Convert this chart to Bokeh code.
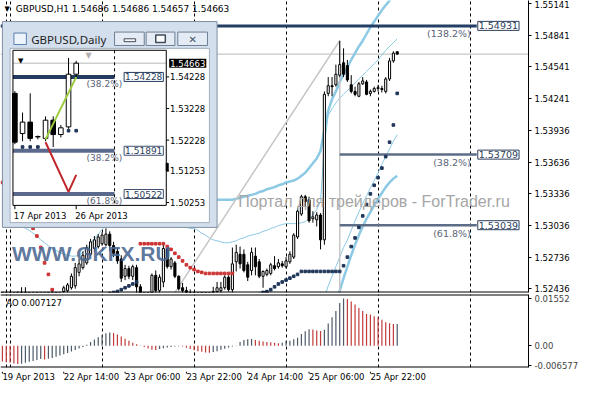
import math
from bokeh.plotting import figure
from bokeh.models import Range1d, FixedTicker, Label, Span, PrintfTickFormatter, Grid
from bokeh.layouts import column
from bokeh.embed import file_html
from bokeh.resources import INLINE
from bokeh.core.properties import value

nan = float("nan")

# ---------------- hourly GBPUSD H1 (bar 0 = 19 Apr 2013 23:00) ----------------
symbol = "GBPUSD,H1"
h_open = [1.5231, 1.5229, 1.5230, 1.5227, 1.5233, 1.5238, 1.5232, 1.5229, 1.5224, 1.5226,
          1.5222, 1.5227, 1.5231, 1.5229, 1.5238, 1.5234, 1.52409, 1.52418, 1.52445, 1.52463,
          1.52591, 1.52636, 1.52681, 1.52763, 1.52818, 1.52836, 1.52863, 1.52854, 1.52954, 1.52845,
          1.52791, 1.52718, 1.52554, 1.52627, 1.52554, 1.52636, 1.52454, 1.52160, 1.52190, 1.52360,
          1.52563, 1.52420, 1.52500, 1.52818, 1.52645, 1.52681, 1.52554, 1.52445, 1.52418, 1.52400,
          1.52360, 1.52340, 1.52370, 1.52350, 1.52335, 1.52372, 1.52409, 1.52418, 1.52445, 1.52545,
          1.52427, 1.52691, 1.52763, 1.52763, 1.52663, 1.52609, 1.52745, 1.52691, 1.52554, 1.52572,
          1.52581, 1.52654, 1.52645, 1.52672, 1.52645, 1.52691, 1.52736, 1.52927, 1.53145, 1.53309,
          1.53281, 1.53100, 1.53090, 1.53136, 1.52900, 1.54290, 1.54363, 1.54372, 1.54463, 1.54581,
          1.54554, 1.54372, 1.54309, 1.54263, 1.54381, 1.54399, 1.54290, 1.54309, 1.54336, 1.54336,
          1.54309, 1.54427, 1.54599, 1.54686]
h_high = [1.5236, 1.5237, 1.5238, 1.5236, 1.5241, 1.5245, 1.5245, 1.5235, 1.5230, 1.5232,
          1.5229, 1.5234, 1.5237, 1.5242, 1.5240, 1.5240, 1.52463, 1.52491, 1.52581, 1.52681,
          1.52718, 1.52791, 1.52854, 1.52909, 1.52936, 1.52954, 1.52972, 1.53009, 1.52981, 1.52881,
          1.52827, 1.52754, 1.52663, 1.52654, 1.52663, 1.52663, 1.52480, 1.52230, 1.52380, 1.52581,
          1.52609, 1.52572, 1.52854, 1.52827, 1.52736, 1.52700, 1.52563, 1.52491, 1.52454, 1.52430,
          1.52400, 1.52390, 1.52395, 1.52380, 1.52390, 1.52454, 1.52500, 1.52500, 1.52563, 1.52563,
          1.52827, 1.52854, 1.52836, 1.52809, 1.52691, 1.52827, 1.52827, 1.52718, 1.52609, 1.52627,
          1.52681, 1.52745, 1.52718, 1.52700, 1.52736, 1.52791, 1.52963, 1.53200, 1.53327, 1.53327,
          1.53309, 1.53172, 1.53163, 1.53154, 1.54309, 1.54445, 1.54445, 1.54563, 1.54790, 1.54718,
          1.54608, 1.54463, 1.54354, 1.54399, 1.54445, 1.54418, 1.54327, 1.54354, 1.54372, 1.54363,
          1.54445, 1.54627, 1.54690, 1.54686]
h_low = [1.5226, 1.5225, 1.5224, 1.5223, 1.5228, 1.5230, 1.5226, 1.5221, 1.5219, 1.5220,
         1.5219, 1.5224, 1.5226, 1.5227, 1.5230, 1.5229, 1.52372, 1.52391, 1.52427, 1.52436,
         1.52554, 1.52618, 1.52663, 1.52745, 1.52791, 1.52818, 1.52845, 1.52836, 1.52791, 1.52736,
         1.52672, 1.52500, 1.52518, 1.52527, 1.52518, 1.52391, 1.52120, 1.52011, 1.52150, 1.52330,
         1.52380, 1.52391, 1.52450, 1.52627, 1.52618, 1.52536, 1.52418, 1.52391, 1.52372, 1.52330,
         1.52314, 1.52320, 1.52330, 1.52320, 1.52316, 1.52354, 1.52381, 1.52391, 1.52427, 1.52409,
         1.52400, 1.52600, 1.52627, 1.52591, 1.52509, 1.52563, 1.52563, 1.52536, 1.52445, 1.52554,
         1.52563, 1.52609, 1.52627, 1.52636, 1.52627, 1.52672, 1.52718, 1.52909, 1.53127, 1.53218,
         1.53063, 1.53063, 1.53027, 1.52809, 1.52854, 1.54263, 1.54263, 1.54354, 1.54445, 1.54445,
         1.54399, 1.54290, 1.54263, 1.54254, 1.54372, 1.54272, 1.54263, 1.54299, 1.54309, 1.54299,
         1.54290, 1.54408, 1.54581, 1.54657]
h_close = [1.5228, 1.5231, 1.5227, 1.5233, 1.5238, 1.5232, 1.5229, 1.5224, 1.5226, 1.5222,
           1.5227, 1.5231, 1.5229, 1.5238, 1.5234, 1.5237, 1.52445, 1.52472, 1.52554, 1.52636,
           1.52672, 1.52754, 1.52827, 1.52881, 1.52900, 1.52927, 1.52945, 1.52954, 1.52845, 1.52772,
           1.52700, 1.52536, 1.52627, 1.52554, 1.52645, 1.52454, 1.52160, 1.52190, 1.52350, 1.52563,
           1.52420, 1.52545, 1.52818, 1.52645, 1.52718, 1.52554, 1.52436, 1.52418, 1.52400, 1.52360,
           1.52340, 1.52370, 1.52350, 1.52335, 1.52375, 1.52409, 1.52445, 1.52445, 1.52545, 1.52427,
           1.52672, 1.52781, 1.52672, 1.52609, 1.52545, 1.52781, 1.52645, 1.52554, 1.52600, 1.52609,
           1.52663, 1.52627, 1.52681, 1.52654, 1.52700, 1.52763, 1.52945, 1.53172, 1.53309, 1.53263,
           1.53081, 1.53118, 1.53136, 1.52900, 1.54281, 1.54363, 1.54354, 1.54472, 1.54563, 1.54472,
           1.54418, 1.54309, 1.54281, 1.54381, 1.54408, 1.54281, 1.54309, 1.54336, 1.54345, 1.54327,
           1.54427, 1.54599, 1.54672, 1.54663]

# Parabolic SAR: above price (red) and below price (dark)
sar_above = ([1.53445, 1.53390, 1.53336, 1.53281, 1.53227, 1.53172, 1.53118, 1.53063, 1.53009, 1.52936,
              1.52827, 1.52681, 1.52572, 1.52427] + [nan] * 22 + [1.52863] * 7 +
             [1.52836, 1.52809, 1.52772, 1.52736, 1.52700, 1.52663, 1.52636, 1.52618, 1.52600, 1.52591] +
             [1.52581] * 8 + [nan] * 43)
sar_below = ([nan] * 14 +
             [1.52190, 1.52195, 1.52201, 1.52210, 1.52222, 1.52238, 1.52258, 1.52281, 1.52300, 1.52318,
              1.52336, 1.52352, 1.52366, 1.52379, 1.52390, 1.52400, 1.52410, 1.52427, 1.52445, 1.52463,
              1.52481, 1.52500] + [nan] * 25 +
             [1.52281, 1.52300, 1.52318, 1.52336, 1.52354, 1.52363, 1.52381, 1.52400, 1.52409, 1.52427,
              1.52454, 1.52481, 1.52500, 1.52518, 1.52536, 1.52554, 1.52572] + [1.52600] * 11 +
             [1.52654, 1.52736, 1.52836, 1.52918, 1.53018, 1.53127, 1.53236, 1.53336, 1.53418, 1.53490,
              1.53581, 1.53690, 1.53827, 1.53990, 1.54290])

# Bands (outer = thick, inner = thin)
bb_upper_outer = ([1.53672, 1.53645, 1.53618, 1.53590, 1.53563, 1.53536, 1.53509, 1.53481, 1.53454, 1.53427,
                   1.53400, 1.53372, 1.53345, 1.53327, 1.53309, 1.53290, 1.53272, 1.53263, 1.53254, 1.53254,
                   1.53263, 1.53281, 1.53309, 1.53345, 1.53381, 1.53418, 1.53454, 1.53481, 1.53500, 1.53509,
                   1.53509, 1.53500, 1.53490, 1.53472, 1.53454, 1.53436, 1.53409, 1.53381, 1.53354, 1.53336,
                   1.53318, 1.53309, 1.53300, 1.53290, 1.53290] + [1.53281] * 16 +
                  [1.53290, 1.53300, 1.53309, 1.53318, 1.53327, 1.53336, 1.53354, 1.53363, 1.53381, 1.53390,
                   1.53400, 1.53418, 1.53427, 1.53445, 1.53454, 1.53463, 1.53481, 1.53509, 1.53536, 1.53581,
                   1.53627, 1.53672, 1.53745, 1.53945, 1.54127, 1.54236, 1.54309, 1.54399, 1.54472, 1.54536,
                   1.54609, 1.54672, 1.54736, 1.54790, 1.54854, 1.54918, 1.54972, 1.55027, 1.55081, 1.55127,
                   1.55172, 1.55218, 1.55263])
bb_upper_inner = [1.53154, 1.53127, 1.53100, 1.53072, 1.53045, 1.53027, 1.53009, 1.52990, 1.52963, 1.52936,
                  1.52900, 1.52872, 1.52845, 1.52818, 1.52800, 1.52781, 1.52763, 1.52754, 1.52745, 1.52745,
                  1.52754, 1.52781, 1.52818, 1.52863, 1.52909, 1.52954, 1.53000, 1.53036, 1.53063, 1.53081,
                  1.53090, 1.53100, 1.53100, 1.53090, 1.53081, 1.53072, 1.53054, 1.53036, 1.53027, 1.53027,
                  1.53027, 1.53036, 1.53045, 1.53045, 1.53036, 1.53027, 1.53018, 1.53018, 1.53018, 1.53009,
                  1.53009, 1.52990, 1.52963, 1.52945, 1.52918, 1.52900, 1.52891, 1.52881, 1.52872, 1.52872,
                  1.52881, 1.52891, 1.52909, 1.52918, 1.52936, 1.52945, 1.52954, 1.52963, 1.52981, 1.52990,
                  1.53009, 1.53018, 1.53036, 1.53045, 1.53054, 1.53054, 1.53054, 1.53054, 1.53063, 1.53072,
                  1.53100, 1.53136, 1.53190, 1.53263, 1.53809, 1.54081, 1.54145, 1.54199, 1.54245, 1.54281,
                  1.54318, 1.54354, 1.54390, 1.54427, 1.54463, 1.54499, 1.54536, 1.54572, 1.54609, 1.54654,
                  1.54699, 1.54736, 1.54772, 1.54808]
bb_lower_inner = [nan] * 82 + [1.52172, 1.52400, 1.52354, 1.52463, 1.52554, 1.52645, 1.52736, 1.52827,
                               1.52900, 1.52990, 1.53081, 1.53163, 1.53245, 1.53318, 1.53390, 1.53463,
                               1.53536, 1.53618, 1.53690, 1.53763, 1.53836, 1.53899]
bb_lower_outer = [nan] * 86 + [1.52036, 1.52263, 1.52418, 1.52536, 1.52645, 1.52754, 1.52854, 1.52945,
                               1.53027, 1.53100, 1.53163, 1.53227, 1.53290, 1.53345, 1.53400, 1.53445,
                               1.53481, 1.53509]

# Awesome Oscillator
ao = [-0.0052, -0.0054, -0.0056, -0.0058, -0.0060, -0.0059, -0.0056, -0.0053, -0.0050, -0.0047,
      -0.0044, -0.0045, -0.0043, -0.0040, -0.0036, -0.0032, -0.0028, -0.0024, -0.0019, -0.0014,
      -0.0009, -0.0004, 0.0003, 0.0012, 0.0020, 0.0028, 0.0035, 0.0041, 0.0043, 0.0042,
      0.0037, 0.0030, 0.0023, 0.0016, 0.0010, 0.0005, 0.0001, -0.0004, -0.0009, -0.0013,
      -0.0014, -0.0011, -0.0008, -0.0006, -0.0004, -0.0003, -0.0002, -0.0003, -0.0007, -0.0011,
      -0.0015, -0.0018, -0.0020, -0.0022, -0.0023, -0.0021, -0.0018, -0.0013, -0.0010, -0.0006,
      -0.0003, -0.0001, 0.0012, 0.0019, 0.0021, 0.0022, 0.0019, 0.0016, 0.0014, 0.0012,
      0.0011, 0.0010, 0.0008, 0.0010, 0.0015, 0.0016, 0.0021, 0.0026, 0.0038, 0.0047,
      0.0054, 0.0053, 0.0050, 0.0048, 0.0052, 0.0073, 0.0093, 0.0114, 0.0140, 0.01552,
      0.0153, 0.0145, 0.0135, 0.0124, 0.0114, 0.0104, 0.0102, 0.0097, 0.0093, 0.0085,
      0.0077, 0.0074, 0.0071, 0.007127]

time_ticks = [0, 16, 32, 48, 64, 80, 96]
time_labels = ["19 Apr 2013", "22 Apr 14:00", "23 Apr 06:00", "23 Apr 22:00",
               "24 Apr 14:00", "25 Apr 06:00", "25 Apr 22:00"]
day_starts = [1, 2, 26, 50, 74, 98, 122]
price_ticks = [1.55141, 1.54841, 1.54541, 1.54241, 1.53936, 1.53636, 1.53336, 1.53036, 1.52736, 1.52436]
ao_ticks = [0.01552, 0.0, -0.006577]
ao_tick_labels = ["0.01552", "0.00", "-0.006577"]

# Fibonacci objects on H1
fib_levels = [1.54931, 1.53709, 1.53039]
fib_names = ["(138.2%)", "(38.2%)", "(61.8%)"]
fib_start_bar = [-0.5, 88, 88]
fib_label_bar = 123.75
fib_anchor_bars = [37, 88]
fib_anchor_prices = [1.51954, 1.54790]

# ---------------- daily inset GBPUSD,Daily (17 Apr .. 26 Apr 2013) ----------------
d_open = [1.53708, 1.52435, 1.52798, 1.52330, 1.52283, 1.52859, 1.52404, 1.52647, 1.54314]
d_high = [1.53780, 1.53101, 1.53708, 1.52374, 1.52980, 1.52980, 1.52708, 1.54829, 1.54738]
d_low = [1.52100, 1.52192, 1.52192, 1.52253, 1.52192, 1.52011, 1.52314, 1.52586, 1.54223]
d_close = [1.52162, 1.52798, 1.52283, 1.52340, 1.52859, 1.52404, 1.52617, 1.54314, 1.54663]
d_sar = [nan, 1.52011, 1.52011, 1.52011, nan, nan, nan, 1.52526, 1.52526]
d_ticks = [1.54228, 1.53228, 1.52228, 1.51253, 1.50253]
d_label_bars = [0, 8]
d_label_text = ["17 Apr 2013", "26 Apr 2013"]
d_fib_levels = [1.54228, 1.51891, 1.50522]
d_fib_names = ["(38.2%)", "(38.2%)", "(61.8%)"]
d_green_bars = [4, 8]
d_green_prices = [1.5225, 1.5422]
d_red_bars = [4, 7, 8]
d_red_prices = [1.5216, 1.5059, 1.5113]

FONT = "DejaVu Sans"
n = len(h_close)
idx = list(range(n))
XMIN, XMAX = -0.5, 137.25
YMIN, YMAX = 1.52400, 1.55172
AO_MIN, AO_MAX = -0.007153, 0.016794

# ======================= main H1 panel =======================
p = figure(frame_width=528, frame_height=292, x_range=Range1d(XMIN, XMAX), y_range=Range1d(YMIN, YMAX),
           x_axis_location=None, y_axis_location="right", toolbar_location=None, output_backend="svg",
           min_border=0, min_border_bottom=2)
p.outline_line_color = None
p.background_fill_color = "white"
p.border_fill_color = "white"
p.xgrid.visible = False
p.ygrid.visible = False
p.extra_x_ranges = {"px": Range1d(0, 551), "dx": Range1d(-1.875, 67)}
p.extra_y_ranges = {"py": Range1d(305, 0), "dy": Range1d(1.47405, 1.56647)}
p.add_layout(Grid(dimension=0, ticker=FixedTicker(ticks=day_starts), grid_line_color="black",
                  grid_line_dash="3 3", grid_line_width=1))
p.add_layout(Span(location=h_close[-1], dimension="width", line_color="#b8b8b8", line_width=1, level="underlay"))

ax = p.yaxis[0]
ax.ticker = FixedTicker(ticks=price_ticks)
ax.formatter = PrintfTickFormatter(format="%.5f")
ax.major_tick_out = 3
ax.major_tick_in = 0
ax.minor_tick_out = 0
ax.minor_tick_in = 0
ax.major_label_standoff = 3
ax.major_label_text_font = FONT
ax.major_label_text_font_size = "8.5px"
ax.major_label_text_color = "black"
ax.axis_line_color = "black"

band_col = "#8cc9e4"
p.line(idx, bb_upper_outer, color=band_col, line_width=2.5)
p.line(idx, bb_lower_outer, color=band_col, line_width=2.5)
p.line(idx, bb_upper_inner, color=band_col, line_width=1)
p.line(idx, bb_lower_inner, color=band_col, line_width=1)

# fibo trend line + vertical
p.line(fib_anchor_bars, fib_anchor_prices, color="#c6c6c6", line_width=1.5)
p.segment(x0=[fib_anchor_bars[1]], y0=[fib_anchor_prices[1]], x1=[fib_anchor_bars[1]], y1=[fib_anchor_prices[0]],
          color="#c6c6c6", line_width=1.5)
fib_cols = ["#243f66", "#5d6d87", "#5d6d87"]
fib_w = [3, 2.5, 2.5]
for lvl, x0, c, w in zip(fib_levels, fib_start_bar, fib_cols, fib_w):
    p.segment(x0=[x0], y0=[lvl], x1=[fib_label_bar], y1=[lvl], color=c, line_width=w)

# candles
body_top = [max(o, c) for o, c in zip(h_open, h_close)]
body_bot = [min(o, c) for o, c in zip(h_open, h_close)]
body_fill = ["white" if c >= o else "black" for o, c in zip(h_open, h_close)]
p.segment(x0=idx, y0=h_high, x1=idx, y1=h_low, color="black", line_width=1)
p.vbar(x=idx, width=0.55, top=body_top, bottom=body_bot, fill_color=body_fill, line_color="black", line_width=1)

p.scatter(idx, sar_above, marker="square", size=2.6, color="#cc3333")
p.scatter(idx, sar_below, marker="square", size=2.6, color="#1f3659")

# bottom border of the price panel
p.add_layout(Span(location=YMIN, dimension="width", line_color="black", line_width=2))

# ======================= inset window (daily) =======================
P = dict(x_range_name="px", y_range_name="py")
D = dict(x_range_name="dx", y_range_name="dy")
PD = dict(x_range_name="px", y_range_name="dy")
DP = dict(x_range_name="dx", y_range_name="py")

p.quad(left=[2], right=[226], top=[22], bottom=[237], fill_color="#d3dfec", line_color="#7f8fa3", **P)
p.quad(left=[10], right=[218], top=[50], bottom=[232], fill_color="white", line_color="#a3afbf", **P)
p.quad(left=[14], right=[27], top=[34], bottom=[46], fill_color="#eef4fb", line_color="#5a7fb0", **P)
p.quad(left=[119, 152, 185], right=[150, 182, 216], top=[33] * 3, bottom=[47] * 3,
       fill_color="#e4ebf4", line_color="#6f8096", **P)
p.quad(left=[129], right=[141], top=[40], bottom=[43], fill_color="#fbfbfb", line_color="#404c5c", **P)
p.quad(left=[162], right=[172], top=[36], bottom=[44], fill_color="#fbfbfb", line_color="#404c5c",
       line_width=1.5, **P)

# inset chart
p.segment(x0=[13], y0=[d_close[-1]], x1=[173], y1=[d_close[-1]], color="#b8b8b8", line_width=1, **PD)
p.segment(x0=[13] * 3, y0=d_fib_levels, x1=[119] * 3, y1=d_fib_levels,
          color=["#223b60", "#5b6a8c", "#5b6a8c"], line_width=4, **PD)
p.segment(x0=[119], y0=[52], x1=[119], y1=[214], color="black", line_dash="3 3", line_width=1, **P)
dk = list(range(len(d_close)))
p.segment(x0=dk, y0=d_high, x1=dk, y1=d_low, color="black", line_width=1, **D)
p.vbar(x=dk, width=0.6, top=[max(o, c) for o, c in zip(d_open, d_close)],
       bottom=[min(o, c) for o, c in zip(d_open, d_close)],
       fill_color=["white" if c >= o else "black" for o, c in zip(d_open, d_close)],
       line_color="black", line_width=1, **D)
p.line(d_green_bars, d_green_prices, color="#9ccc3c", line_width=2, **D)
p.line(d_red_bars, d_red_prices, color="#c0262c", line_width=2, **D)
p.scatter(dk, d_sar, marker="square", size=2.6, color="#1f3659", **D)
p.quad(left=[13], right=[173], top=[52], bottom=[214], fill_alpha=0, line_color="black", **P)
p.quad(left=[173], right=[175], top=[170], bottom=[178], fill_color="black", line_color="black", **P)
p.segment(x0=[173] * len(d_ticks), y0=d_ticks, x1=[176] * len(d_ticks), y1=d_ticks, color="black", **PD)
p.text(x=[177] * len(d_ticks), y=d_ticks, text=[f"{t:.5f}" for t in d_ticks], text_font=value(FONT),
       text_font_size="8.5px", text_baseline="middle", text_align="left", text_color="black", **PD)
p.segment(x0=d_label_bars, y0=[214] * 2, x1=d_label_bars, y1=[218] * 2, color="black", **DP)
p.text(x=d_label_bars, y=[225] * 2, text=d_label_text, x_offset=-1, text_font=value(FONT),
       text_font_size="8.5px", text_baseline="middle", text_align="left", text_color="black", **DP)


def lab(fig, **kw):
    base = dict(text_font=FONT, text_font_size="8.5px", text_color="black",
                text_baseline="middle", text_align="left")
    base.update(kw)
    fig.add_layout(Label(**base))


# inset labels
lab(p, x=32, y=41, text="GBPUSD,Daily", text_font="Noto Sans", text_font_size="11.5px", text_color="#1e1e1e",
    x_range_name="px", y_range_name="py")
lab(p, x=200.5, y=40.5, text="\u2715", text_align="center", text_font_size="10px", text_font_style="bold",
    text_color="#44546a", x_range_name="px", y_range_name="py")
lab(p, x=21, y=63, text="\u25bc", text_align="center", text_font_size="7px", x_range_name="px", y_range_name="py")
lab(p, x=92, y=57, text="\u25bc", text_align="center", text_font_size="8px", text_color="#b0b0b0",
    x_range_name="px", y_range_name="py")
lab(p, x=176, y=d_close[-1], text=f"{d_close[-1]:.5f}", text_color="white", background_fill_color="black",
    padding=1, x_range_name="px", y_range_name="dy")
for lvl, nm, c in zip(d_fib_levels, d_fib_names, ["#223b60", "#3f4f6e", "#3f4f6e"]):
    lab(p, x=129, y=lvl, text=f"{lvl:.5f}", text_font_size="9px", text_color="#2e3f5c",
        border_line_color=c, background_fill_color="white", padding=1, x_range_name="px", y_range_name="dy")
    lab(p, x=127, y=lvl, y_offset=-7, text=nm, text_align="right", text_font_size="9px", text_color="#5b6477",
        x_range_name="px", y_range_name="dy")

# main labels
lab(p, x=7, y=9, text="\u25bc", text_align="center", text_font_size="7px", x_range_name="px", y_range_name="py")
lab(p, x=16, y=9, text=f"{symbol}  {h_open[-1]:.5f} {h_high[-1]:.5f} {h_low[-1]:.5f} {h_close[-1]:.5f}",
    text_font_size="9px", x_range_name="px", y_range_name="py")
lab(p, x=12, y=264, text="WWW.GKFX.RU", text_font="Liberation Sans", text_font_style="bold",
    text_font_size="21px", text_color="#4a6691", text_alpha=0.9, x_range_name="px", y_range_name="py")
lab(p, x=248, y=210, text="Портал для трейдеров - ForTrader.ru", text_font="Liberation Sans",
    text_font_size="16px", text_color="#a6a6a6", x_range_name="px", y_range_name="py")
for lvl, nm in zip(fib_levels, fib_names):
    lab(p, x=fib_label_bar, y=lvl, x_offset=1, text=f"{lvl:.5f}", text_font_size="9.5px", text_color="#2e3f5c",
        border_line_color="#2e3f5c", background_fill_color="white", padding=1)
    lab(p, x=fib_label_bar, y=lvl, x_offset=-6, y_offset=-8, text=nm, text_align="right",
        text_font_size="9.5px", text_color="#5b6477")
lab(p, x=XMAX, y=h_close[-1], x_offset=4, text=f"{h_close[-1]:.5f}", text_color="white",
    background_fill_color="black", padding=2)

# ======================= AO panel =======================
ao_fig = figure(frame_width=528, frame_height=73, x_range=p.x_range, y_range=Range1d(AO_MIN, AO_MAX),
                x_axis_location=None, y_axis_location="right", toolbar_location=None, output_backend="svg",
                min_border=0, min_border_bottom=4)
ao_fig.outline_line_color = None
ao_fig.background_fill_color = "white"
ao_fig.border_fill_color = "white"
ao_fig.xgrid.visible = False
ao_fig.ygrid.visible = False
ao_fig.extra_x_ranges = {"apx": Range1d(0, 551)}
ao_fig.extra_y_ranges = {"apy": Range1d(384, 307)}
ao_fig.add_layout(Grid(dimension=0, ticker=FixedTicker(ticks=day_starts), grid_line_color="black",
                       grid_line_dash="3 3", grid_line_width=1))

ao_colors = []
for i, v in enumerate(ao):
    ao_colors.append("#c23b3b" if i == 0 or v < ao[i - 1] else "#4d5968")
ao_fig.segment(x0=idx, y0=[0] * n, x1=idx, y1=ao, color=ao_colors, line_width=1.2)
ao_fig.add_layout(Span(location=AO_MAX, dimension="width", line_color="black", line_width=2))
ao_fig.add_layout(Span(location=AO_MIN, dimension="width", line_color="black", line_width=2))

ya = ao_fig.yaxis[0]
ya.ticker = FixedTicker(ticks=ao_ticks)
ya.major_label_overrides = dict(zip(ao_ticks, ao_tick_labels))
ya.major_tick_out = 3
ya.major_tick_in = 0
ya.minor_tick_out = 0
ya.minor_tick_in = 0
ya.major_label_standoff = 3
ya.major_label_text_font = FONT
ya.major_label_text_font_size = "8.5px"
ya.axis_line_color = "black"

lab(ao_fig, x=6, y=315.5, text=f"AO {ao[-1]:.6f}", x_range_name="apx", y_range_name="apy")

# ======================= time scale strip =======================
ts = figure(frame_width=528, frame_height=13, x_range=p.x_range, y_range=Range1d(0, 13),
            x_axis_location=None, y_axis_location=None, toolbar_location=None, output_backend="svg",
            min_border=0)
ts.outline_line_color = None
ts.background_fill_color = "white"
ts.border_fill_color = "white"
ts.xgrid.visible = False
ts.ygrid.visible = False
ts.segment(x0=time_ticks, y0=[13] * len(time_ticks), x1=time_ticks, y1=[11] * len(time_ticks),
           color="black", line_width=1)
ts.text(x=time_ticks, y=[7.5] * len(time_ticks), text=time_labels, text_font=value(FONT),
        text_font_size="8.5px", text_baseline="middle", text_align="left", text_color="black")

layout = column(p, ao_fig, ts, spacing=0)
open("out.html", "w").write(file_html(layout, INLINE))
